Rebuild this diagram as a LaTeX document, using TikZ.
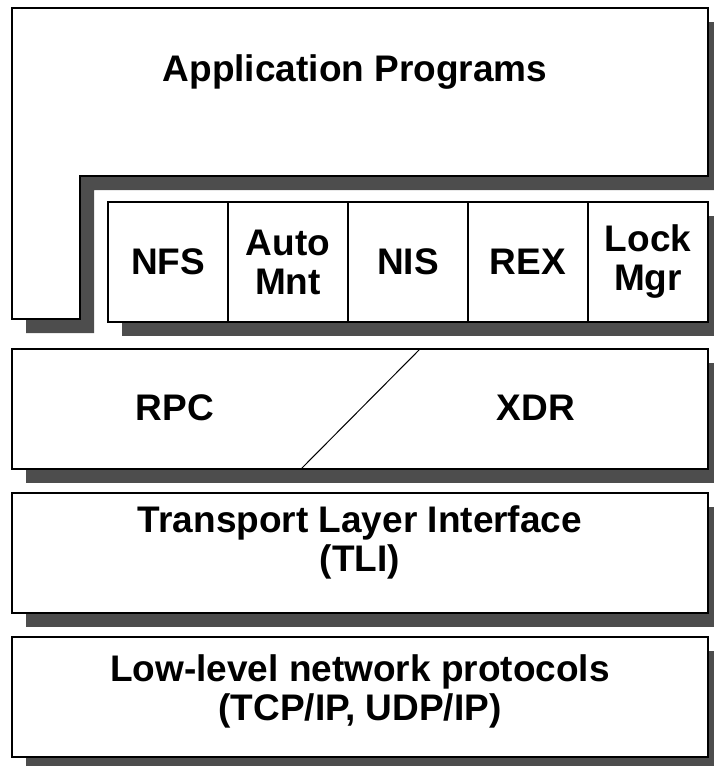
\documentclass[tikz,border=0pt]{standalone}
\usepackage{fontspec}
\setmainfont{Liberation Sans}
\usepackage{tikz}
\usetikzlibrary{positioning,shadows}

\definecolor{shadowgray}{HTML}{4D4D4D}
\newcommand{\layerfont}{\fontsize{37}{39}\selectfont\bfseries}

\tikzset{
  layerbox/.style={draw, fill=white, line width=1.3pt, inner sep=0pt, outer sep=0pt,
    drop shadow={shadow xshift=14pt, shadow yshift=-14pt, fill=shadowgray, opacity=1}},
  cellbox/.style={draw, fill=white, line width=1.3pt, inner sep=0pt, outer sep=0pt,
    minimum width=120pt, minimum height=120pt, font=\layerfont, align=center},
  layertext/.style={inner sep=0pt, font=\layerfont, align=center}
}

\begin{document}
\begin{tikzpicture}[x=1pt, y=-1pt]
    \useasboundingbox (0,0) rectangle (713,766);

    % Application programs
    \draw[layerbox] (12,8) -- (708,8) -- (708,176) -- (80,176) -- (80,319) -- (12,319) -- cycle;
    \node[layertext] (apptext) at (355,72) {Application Programs};

    % Services
    \node[layerbox, minimum width=600pt, minimum height=120pt] (services) at (408,262) {};
    \node[cellbox, anchor=north west] (nfs) at (services.north west) {NFS};
    \node[cellbox, right=0pt of nfs] (automnt) {Auto\\Mnt};
    \node[cellbox, right=0pt of automnt] (nis) {NIS};
    \node[cellbox, right=0pt of nis] (rex) {REX};
    \node[cellbox, right=0pt of rex] (lockmgr) {Lock\\Mgr};

    % RPC / XDR
    \node[layerbox, minimum width=696pt, minimum height=120pt] (rpcxdr) at (360,409) {};
    \coordinate (splittop) at (420,349);
    \coordinate (splitbot) at (301,469);
    \draw[line width=1pt] (splittop) -- (splitbot);
    \node[layertext] (rpc) at (175,408) {RPC};
    \node[layertext] (xdr) at (536,408) {XDR};

    % Transport layer
    \node[layerbox, minimum width=696pt, minimum height=120pt] (tli) at (360,553) {};
    \node[layertext] (tlitext) at (360,542) {Transport Layer Interface\\(TLI)};

    % Network protocols
    \node[layerbox, minimum width=696pt, minimum height=120pt] (lowlevel) at (360,697) {};
    \node[layertext] (lowtext) at (360,691) {Low-level network protocols\\(TCP/IP, UDP/IP)};
\end{tikzpicture}
\end{document}
